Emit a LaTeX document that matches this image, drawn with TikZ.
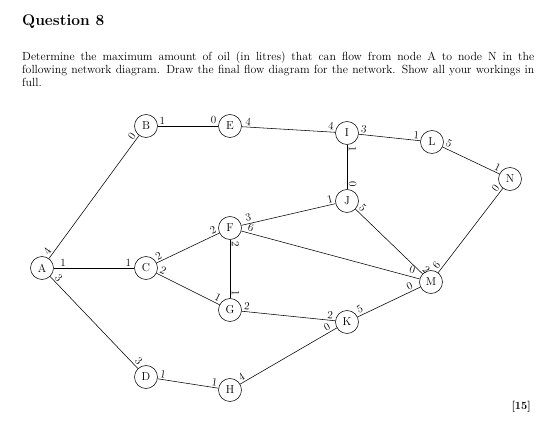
\documentclass[tikz,border=0pt]{standalone}
\begin{document}
\begin{tikzpicture}[x=1pt,y=-1pt,
  vtx/.style={circle,draw,line width=0.55pt,minimum size=23pt,inner sep=0pt,font=\fontsize{11.5}{13}\selectfont},
  lab/.style={font=\fontsize{11}{12}\selectfont,inner sep=1.6pt,sloped},
  ls/.style={lab,pos=0,anchor=south west},
  le/.style={lab,pos=1,anchor=south east},
  lc/.style={lab,pos=1,anchor=south},
  edg/.style={line width=0.55pt}]
\useasboundingbox (0,0) rectangle (557,423);
\node[anchor=base west,inner sep=0pt,font=\bfseries\fontsize{15.5}{18}\selectfont] (q) at (22,25) {Question 8};
\node[anchor=north west,text width=512pt,inner sep=0pt,align=justify,font=\fontsize{11.8}{13}\selectfont] (t) at (22,51)
 {Determine the maximum amount of oil (in litres) that can flow from node A to node N in the\linebreak following network diagram. Draw the final flow diagram for the network. Show all your workings in\linebreak full.};
\node[anchor=base east,inner sep=0pt,font=\bfseries\fontsize{11}{13}\selectfont] (m) at (531,409) {[15]};

\node[vtx] (A) at (42,268) {A};
\node[vtx] (B) at (146,126) {B};
\node[vtx] (E) at (230,126) {E};
\node[vtx] (I) at (347,133) {I};
\node[vtx] (L) at (432,142) {L};
\node[vtx] (N) at (510,179) {N};
\node[vtx] (J) at (347,201) {J};
\node[vtx] (F) at (230,228) {F};
\node[vtx] (C) at (146,268) {C};
\node[vtx] (M) at (431,282) {M};
\node[vtx] (G) at (230,310) {G};
\node[vtx] (K) at (347,322) {K};
\node[vtx] (D) at (146,377) {D};
\node[vtx] (H) at (230,390) {H};

\draw[edg] (A) -- node[ls]{4} node[le]{0} (B);
\draw[edg] (B) -- node[ls]{1} node[le]{0} (E);
\draw[edg] (E) -- node[ls,outer xsep=2pt]{4} node[le]{4} (I);
\draw[edg] (I) -- node[ls]{3} node[le]{1} (L);
\draw[edg] (L) -- node[ls]{5} node[le]{1} (N);
\draw[edg] (I) -- node[ls]{1} node[le]{0} (J);
\draw[edg] (F) -- node[ls,outer xsep=4pt,outer ysep=1pt]{3} node[le]{1} (J);
\draw[edg] (J) -- node[ls]{5} node[lc]{2} (M);
\draw[edg] (F) -- node[ls,outer xsep=4pt]{6} node[le,outer xsep=5pt,outer ysep=1.2pt]{0} (M);
\draw[edg] (F) -- node[ls]{2} node[le]{1} (G);
\draw[edg] (C) -- node[ls]{2} node[le]{2} (F);
\draw[edg] (A) -- node[ls,outer xsep=5pt]{1} node[le,outer xsep=1.5pt]{1} (C);
\draw[edg] (C) -- node[ls]{2} node[le]{1} (G);
\draw[edg] (G) -- node[ls]{2} node[le,outer xsep=1.5pt]{2} (K);
\draw[edg] (K) -- node[ls,outer sep=1pt]{5} node[le,outer xsep=5pt]{0} (M);
\draw[edg] (H) -- node[ls]{4} node[le,outer xsep=4pt]{0} (K);
\draw[edg] (D) -- node[ls]{1} node[le]{1} (H);
\draw[edg] (A) -- node[ls,outer xsep=2.5pt]{3} node[le]{3} (D);
\draw[edg] (M) -- node[ls]{6} node[le]{0} (N);
\end{tikzpicture}
\end{document}
